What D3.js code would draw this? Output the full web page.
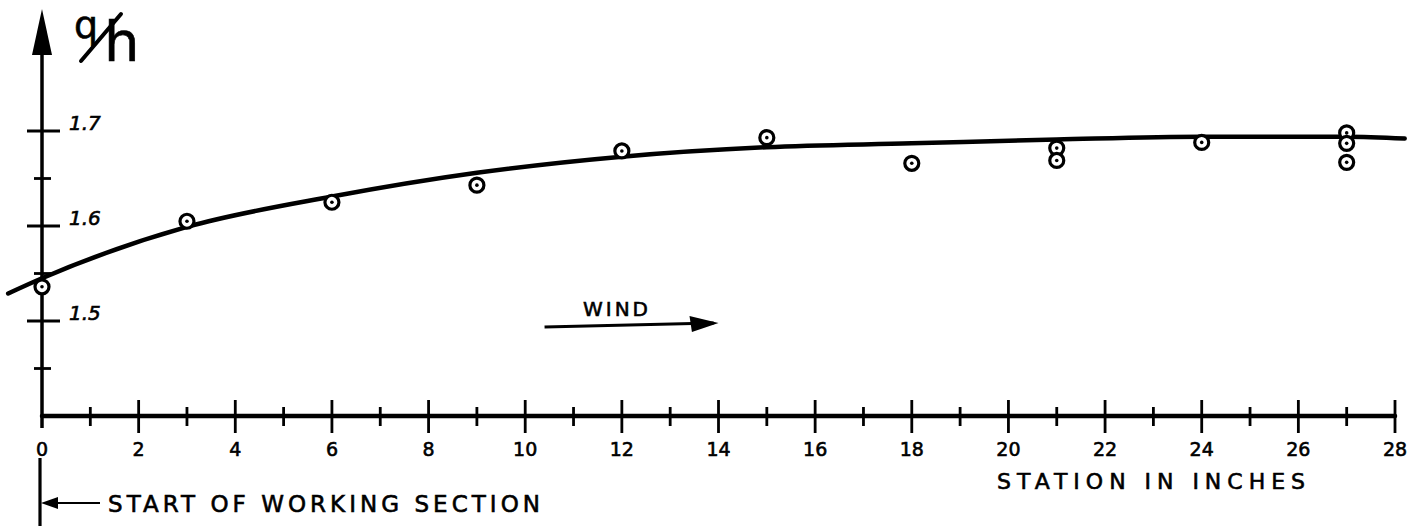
<!DOCTYPE html>
<html>
<head>
<meta charset="utf-8">
<script src="https://cdn.jsdelivr.net/npm/d3@7"></script>
<style>
  html, body { margin: 0; padding: 0; background: #fff; }
  svg { display: block; }
  text { font-family: "DejaVu Sans", sans-serif; fill: #000; stroke: #000; stroke-width: 0.6px; }
</style>
</head>
<body>
<div id="chart"></div>
<script>
const width = 1427
const height = 526

// measured points: station (inches) and q/h
const stations = [0, 3, 6, 9, 12, 15, 18, 21, 21, 24, 27, 27, 27]
const ratios = [1.536, 1.605, 1.625, 1.643, 1.679, 1.693, 1.666, 1.682, 1.669, 1.688, 1.698, 1.687, 1.667]

// hand drawn fitted curve
const fitStations = [-0.7, 0, 3, 6, 9, 12, 15, 18, 21, 24, 27, 28.2]
const fitRatios = [1.529, 1.545, 1.599, 1.631, 1.656, 1.673, 1.683, 1.687, 1.691, 1.694, 1.694, 1.692]

const xMajor = [0, 2, 4, 6, 8, 10, 12, 14, 16, 18, 20, 22, 24, 26, 28]
const xMinor = [1, 3, 5, 7, 9, 11, 13, 15, 17, 19, 21, 23, 25, 27]
const yMajor = [1.5, 1.6, 1.7]
const yMinor = [1.45, 1.55, 1.65]

const xScale = d3.scaleLinear().domain([0, 28]).range([42, 1395])
const yScale = d3.scaleLinear().domain([1.4, 1.7]).range([416, 131])

const svg = d3.select('#chart').append('svg')
  .attr('width', width)
  .attr('height', height)

const x0 = xScale(0)
const yBase = yScale(1.4)

// x axis
svg.append('line')
  .attr('x1', x0).attr('x2', xScale(28))
  .attr('y1', yBase).attr('y2', yBase)
  .style('stroke', '#000').style('stroke-width', 4.5).style('stroke-linecap', 'round')

svg.append('g').selectAll('line')
  .data(xMajor.slice(1))
  .enter().append('line')
  .attr('x1', d => xScale(d)).attr('x2', d => xScale(d))
  .attr('y1', yBase - 16).attr('y2', yBase + 17)
  .style('stroke', '#000').style('stroke-width', 2.8)

svg.append('g').selectAll('line')
  .data(xMinor)
  .enter().append('line')
  .attr('x1', d => xScale(d)).attr('x2', d => xScale(d))
  .attr('y1', yBase - 9).attr('y2', yBase + 10)
  .style('stroke', '#000').style('stroke-width', 2.8)

svg.append('g').selectAll('text')
  .data(xMajor)
  .enter().append('text')
  .attr('x', d => xScale(d))
  .attr('y', 456)
  .attr('text-anchor', 'middle')
  .style('font-size', '19px')
  .text(d => d)

// y axis with arrow
svg.append('line')
  .attr('x1', x0).attr('x2', x0)
  .attr('y1', yBase + 12).attr('y2', 40)
  .style('stroke', '#000').style('stroke-width', 3.5)

svg.append('path')
  .attr('d', `M${x0},9 L${x0 - 10},55 L${x0 + 10},55 Z`)
  .style('fill', '#000')

svg.append('g').selectAll('line')
  .data(yMajor)
  .enter().append('line')
  .attr('x1', x0 - 15).attr('x2', x0 + 18)
  .attr('y1', d => yScale(d)).attr('y2', d => yScale(d))
  .style('stroke', '#000').style('stroke-width', 2.8)

svg.append('g').selectAll('line')
  .data(yMinor)
  .enter().append('line')
  .attr('x1', x0 - 8).attr('x2', x0 + 9)
  .attr('y1', d => yScale(d)).attr('y2', d => yScale(d))
  .style('stroke', '#000').style('stroke-width', 2.8)

svg.append('g').selectAll('text')
  .data(yMajor)
  .enter().append('text')
  .attr('x', x0 + 27)
  .attr('y', d => yScale(d) - 1)
  .style('font-size', '20px')
  .style('font-style', 'italic')
  .text(d => d.toFixed(1))

// y label q/h, slash drawn as a stroke between the letters
svg.append('text')
  .attr('x', 74)
  .attr('y', 38)
  .style('font-size', '38px')
  .text('q')

svg.append('line')
  .attr('x1', 81).attr('y1', 61)
  .attr('x2', 121).attr('y2', 14)
  .style('stroke', '#000').style('stroke-width', 4).style('stroke-linecap', 'round')

svg.append('text')
  .attr('x', 104)
  .attr('y', 61)
  .style('font-size', '56px')
  .text('h')

// fitted curve
const line = d3.line()
  .curve(d3.curveMonotoneX)
  .x((d, i) => xScale(d))
  .y((d, i) => yScale(fitRatios[i]))

svg.append('path')
  .attr('d', line(fitStations))
  .style('fill', 'none')
  .style('stroke', '#000')
  .style('stroke-width', 4.5)
  .style('stroke-linecap', 'round')

// measured points
const pts = svg.append('g').selectAll('g')
  .data(stations)
  .enter().append('g')
  .attr('transform', (d, i) => `translate(${xScale(d)},${yScale(ratios[i])})`)

pts.append('circle')
  .attr('r', 7)
  .style('fill', '#fff')
  .style('stroke', '#000')
  .style('stroke-width', 3.2)

pts.append('circle')
  .attr('r', 1.8)
  .style('fill', '#000')

// wind arrow
svg.append('text')
  .attr('x', 583)
  .attr('y', 316)
  .attr('textLength', 65)
  .attr('lengthAdjust', 'spacing')
  .style('font-size', '20px')
  .text('WIND')

svg.append('line')
  .attr('x1', xScale(10.4)).attr('x2', xScale(13.9))
  .attr('y1', 327).attr('y2', 323)
  .style('stroke', '#000').style('stroke-width', 2.8)

svg.append('path')
  .attr('d', `M${xScale(14.0)},323 L${xScale(13.4)},316 L${xScale(13.45)},332 Z`)
  .style('fill', '#000')

// axis title
svg.append('text')
  .attr('x', 997)
  .attr('y', 489)
  .attr('textLength', 308)
  .attr('lengthAdjust', 'spacing')
  .style('font-size', '22px')
  .text('STATION IN INCHES')

// start of working section marker
svg.append('line')
  .attr('x1', x0 - 2).attr('x2', x0 - 2)
  .attr('y1', 458).attr('y2', height)
  .style('stroke', '#000').style('stroke-width', 3.2)

svg.append('line')
  .attr('x1', x0 + 10).attr('x2', 100)
  .attr('y1', 503).attr('y2', 503)
  .style('stroke', '#000').style('stroke-width', 2.2)

svg.append('path')
  .attr('d', `M${x0 - 1},503 L${x0 + 16},497 L${x0 + 16},509 Z`)
  .style('fill', '#000')

svg.append('text')
  .attr('x', 108)
  .attr('y', 512)
  .attr('textLength', 432)
  .attr('lengthAdjust', 'spacing')
  .style('font-size', '23px')
  .text('START OF WORKING SECTION')
</script>
</body>
</html>
